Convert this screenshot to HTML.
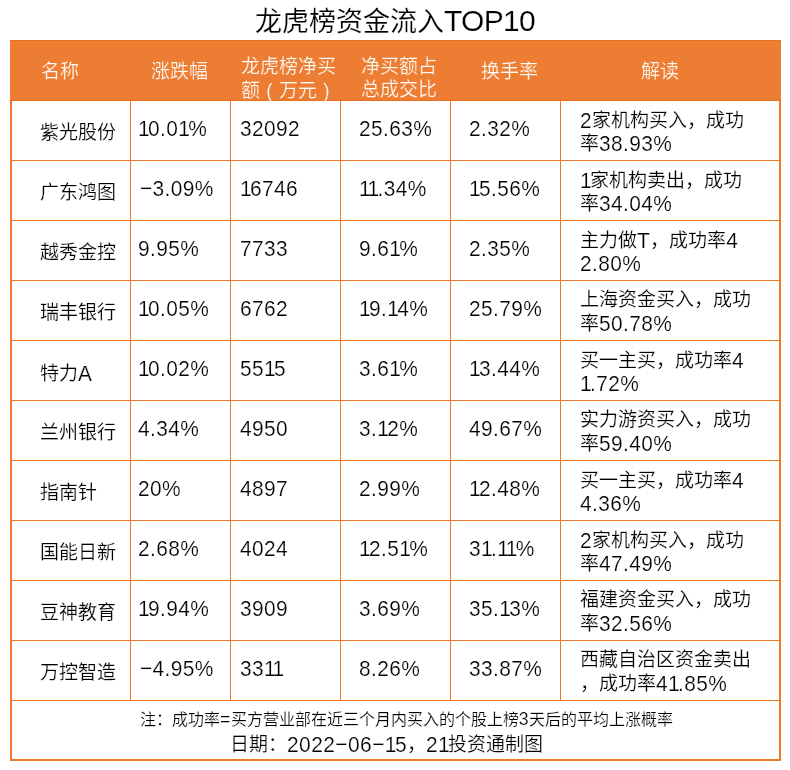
<!DOCTYPE html><html lang="zh-CN"><head><meta charset="utf-8"><style>
html,body{margin:0;padding:0;background:#fff;width:790px;height:770px;overflow:hidden}
body{position:relative;font-family:"Liberation Sans",sans-serif;color:#000;}
.a{position:absolute;white-space:nowrap;line-height:1;will-change:transform;-webkit-text-stroke:0.2px #fff}
.ln{position:absolute;background:#ec7a2c}
.h{color:#fffaf5;-webkit-text-stroke:0.2px #ec7d32}
.par{display:inline-block;text-align:center}
</style></head><body>
<div class="a " style="left:255px;top:5.5px;color:#000"><span style="font-size:27px">龙虎榜资金流入</span><span style="font-size:30px;letter-spacing:-0.7px;display:inline-block;transform:scaleY(1)">TOP10</span></div>
<div class="ln" style="left:10px;top:40px;width:771px;height:61px;background:#ec7d32"></div>
<div class="ln" style="left:10px;top:40px;width:771px;height:1px;background:#e8701f"></div>
<div class="ln" style="left:10px;top:100px;width:771px;height:1px;background:#e8701f"></div>
<div class="ln" style="left:10px;top:101px;width:2px;height:660px"></div>
<div class="ln" style="left:779px;top:101px;width:2px;height:660px"></div>
<div class="ln" style="left:10px;top:759px;width:771px;height:2px"></div>
<div class="ln" style="left:10px;top:160px;width:771px;height:1px"></div>
<div class="ln" style="left:10px;top:220px;width:771px;height:1px"></div>
<div class="ln" style="left:10px;top:280px;width:771px;height:1px"></div>
<div class="ln" style="left:10px;top:340px;width:771px;height:1px"></div>
<div class="ln" style="left:10px;top:400px;width:771px;height:1px"></div>
<div class="ln" style="left:10px;top:460px;width:771px;height:1px"></div>
<div class="ln" style="left:10px;top:520px;width:771px;height:1px"></div>
<div class="ln" style="left:10px;top:580px;width:771px;height:1px"></div>
<div class="ln" style="left:10px;top:640px;width:771px;height:1px"></div>
<div class="ln" style="left:10px;top:700px;width:771px;height:1px"></div>
<div class="ln" style="left:130px;top:101px;width:1px;height:600px"></div>
<div class="ln" style="left:230px;top:101px;width:1px;height:600px"></div>
<div class="ln" style="left:340px;top:101px;width:1px;height:600px"></div>
<div class="ln" style="left:450px;top:101px;width:1px;height:600px"></div>
<div class="ln" style="left:560px;top:101px;width:1px;height:600px"></div>
<div class="a h" style="left:41px;top:62px;"><span style="font-size:19px">名称</span></div>
<div class="a h" style="left:151px;top:62px;"><span style="font-size:19px">涨跌幅</span></div>
<div class="a h" style="left:241px;top:57px;"><span style="font-size:19px">龙虎榜净买</span></div>
<div class="a h" style="left:241px;top:80px;"><span style="font-size:19px">额</span><span style="font-size:20.9px;letter-spacing:0.4px;display:inline-block;transform:scaleY(1.08)"><span class="par" style="width:19px;font-size:19px">(</span></span><span style="font-size:19px">万元</span><span style="font-size:20.9px;letter-spacing:0.4px;display:inline-block;transform:scaleY(1.08)"><span class="par" style="width:19px;font-size:19px">)</span></span></div>
<div class="a h" style="left:361px;top:57px;"><span style="font-size:19px">净买额占</span></div>
<div class="a h" style="left:361px;top:80px;"><span style="font-size:19px">总成交比</span></div>
<div class="a h" style="left:481px;top:62px;"><span style="font-size:19px">换手率</span></div>
<div class="a h" style="left:641px;top:62px;"><span style="font-size:19px">解读</span></div>
<div class="a " style="left:40px;top:123px;"><span style="font-size:19px">紫光股份</span></div>
<div class="a " style="left:138px;top:118px;"><span style="font-size:20.9px;letter-spacing:0.4px;display:inline-block;transform:scaleY(1.08)"><i style="font-style:normal;letter-spacing:-1.6px">1</i>0.0<i style="font-style:normal;letter-spacing:-1.6px">1</i>%</span></div>
<div class="a " style="left:240px;top:118px;"><span style="font-size:20.9px;letter-spacing:0.4px;display:inline-block;transform:scaleY(1.08)">32092</span></div>
<div class="a " style="left:359px;top:118px;"><span style="font-size:20.9px;letter-spacing:0.4px;display:inline-block;transform:scaleY(1.08)">25.63%</span></div>
<div class="a " style="left:469px;top:118px;"><span style="font-size:20.9px;letter-spacing:0.4px;display:inline-block;transform:scaleY(1.08)">2.32%</span></div>
<div class="a " style="left:580px;top:110px;"><span style="font-size:20.9px;letter-spacing:0.4px;display:inline-block;transform:scaleY(1.08)">2</span><span style="font-size:19px">家机构买入，成功</span></div>
<div class="a " style="left:580px;top:133px;"><span style="font-size:19px">率</span><span style="font-size:20.9px;letter-spacing:0.4px;display:inline-block;transform:scaleY(1.08)">38.93%</span></div>
<div class="a " style="left:40px;top:183px;"><span style="font-size:19px">广东鸿图</span></div>
<div class="a " style="left:140px;top:178px;"><span style="font-size:20.9px;letter-spacing:0.4px;display:inline-block;transform:scaleY(1.08)">−3.09%</span></div>
<div class="a " style="left:240px;top:178px;"><span style="font-size:20.9px;letter-spacing:0.4px;display:inline-block;transform:scaleY(1.08)"><i style="font-style:normal;letter-spacing:-1.6px">1</i>6746</span></div>
<div class="a " style="left:359px;top:178px;"><span style="font-size:20.9px;letter-spacing:0.4px;display:inline-block;transform:scaleY(1.08)"><i style="font-style:normal;letter-spacing:-1.6px">1</i><i style="font-style:normal;letter-spacing:-1.6px">1</i>.34%</span></div>
<div class="a " style="left:469px;top:178px;"><span style="font-size:20.9px;letter-spacing:0.4px;display:inline-block;transform:scaleY(1.08)"><i style="font-style:normal;letter-spacing:-1.6px">1</i>5.56%</span></div>
<div class="a " style="left:580px;top:170px;"><span style="font-size:20.9px;letter-spacing:0.4px;display:inline-block;transform:scaleY(1.08)"><i style="font-style:normal;letter-spacing:-1.6px">1</i></span><span style="font-size:19px">家机构卖出，成功</span></div>
<div class="a " style="left:580px;top:193px;"><span style="font-size:19px">率</span><span style="font-size:20.9px;letter-spacing:0.4px;display:inline-block;transform:scaleY(1.08)">34.04%</span></div>
<div class="a " style="left:40px;top:243px;"><span style="font-size:19px">越秀金控</span></div>
<div class="a " style="left:138px;top:238px;"><span style="font-size:20.9px;letter-spacing:0.4px;display:inline-block;transform:scaleY(1.08)">9.95%</span></div>
<div class="a " style="left:240px;top:238px;"><span style="font-size:20.9px;letter-spacing:0.4px;display:inline-block;transform:scaleY(1.08)">7733</span></div>
<div class="a " style="left:359px;top:238px;"><span style="font-size:20.9px;letter-spacing:0.4px;display:inline-block;transform:scaleY(1.08)">9.6<i style="font-style:normal;letter-spacing:-1.6px">1</i>%</span></div>
<div class="a " style="left:469px;top:238px;"><span style="font-size:20.9px;letter-spacing:0.4px;display:inline-block;transform:scaleY(1.08)">2.35%</span></div>
<div class="a " style="left:580px;top:230px;"><span style="font-size:19px">主力做</span><span style="font-size:20.9px;letter-spacing:0.4px;display:inline-block;transform:scaleY(1.08)">T</span><span style="font-size:19px">，成功率</span><span style="font-size:20.9px;letter-spacing:0.4px;display:inline-block;transform:scaleY(1.08)">4</span></div>
<div class="a " style="left:580px;top:253px;"><span style="font-size:20.9px;letter-spacing:0.4px;display:inline-block;transform:scaleY(1.08)">2.80%</span></div>
<div class="a " style="left:40px;top:303px;"><span style="font-size:19px">瑞丰银行</span></div>
<div class="a " style="left:138px;top:298px;"><span style="font-size:20.9px;letter-spacing:0.4px;display:inline-block;transform:scaleY(1.08)"><i style="font-style:normal;letter-spacing:-1.6px">1</i>0.05%</span></div>
<div class="a " style="left:240px;top:298px;"><span style="font-size:20.9px;letter-spacing:0.4px;display:inline-block;transform:scaleY(1.08)">6762</span></div>
<div class="a " style="left:359px;top:298px;"><span style="font-size:20.9px;letter-spacing:0.4px;display:inline-block;transform:scaleY(1.08)"><i style="font-style:normal;letter-spacing:-1.6px">1</i>9.<i style="font-style:normal;letter-spacing:-1.6px">1</i>4%</span></div>
<div class="a " style="left:469px;top:298px;"><span style="font-size:20.9px;letter-spacing:0.4px;display:inline-block;transform:scaleY(1.08)">25.79%</span></div>
<div class="a " style="left:580px;top:290px;"><span style="font-size:19px">上海资金买入，成功</span></div>
<div class="a " style="left:580px;top:313px;"><span style="font-size:19px">率</span><span style="font-size:20.9px;letter-spacing:0.4px;display:inline-block;transform:scaleY(1.08)">50.78%</span></div>
<div class="a " style="left:40px;top:363px;"><span style="font-size:19px">特力</span><span style="font-size:20.9px;letter-spacing:0.4px;display:inline-block;transform:scaleY(1.08)">A</span></div>
<div class="a " style="left:138px;top:358px;"><span style="font-size:20.9px;letter-spacing:0.4px;display:inline-block;transform:scaleY(1.08)"><i style="font-style:normal;letter-spacing:-1.6px">1</i>0.02%</span></div>
<div class="a " style="left:240px;top:358px;"><span style="font-size:20.9px;letter-spacing:0.4px;display:inline-block;transform:scaleY(1.08)">55<i style="font-style:normal;letter-spacing:-1.6px">1</i>5</span></div>
<div class="a " style="left:359px;top:358px;"><span style="font-size:20.9px;letter-spacing:0.4px;display:inline-block;transform:scaleY(1.08)">3.6<i style="font-style:normal;letter-spacing:-1.6px">1</i>%</span></div>
<div class="a " style="left:469px;top:358px;"><span style="font-size:20.9px;letter-spacing:0.4px;display:inline-block;transform:scaleY(1.08)"><i style="font-style:normal;letter-spacing:-1.6px">1</i>3.44%</span></div>
<div class="a " style="left:580px;top:350px;"><span style="font-size:19px">买一主买，成功率</span><span style="font-size:20.9px;letter-spacing:0.4px;display:inline-block;transform:scaleY(1.08)">4</span></div>
<div class="a " style="left:580px;top:373px;"><span style="font-size:20.9px;letter-spacing:0.4px;display:inline-block;transform:scaleY(1.08)"><i style="font-style:normal;letter-spacing:-1.6px">1</i>.72%</span></div>
<div class="a " style="left:40px;top:423px;"><span style="font-size:19px">兰州银行</span></div>
<div class="a " style="left:138px;top:418px;"><span style="font-size:20.9px;letter-spacing:0.4px;display:inline-block;transform:scaleY(1.08)">4.34%</span></div>
<div class="a " style="left:240px;top:418px;"><span style="font-size:20.9px;letter-spacing:0.4px;display:inline-block;transform:scaleY(1.08)">4950</span></div>
<div class="a " style="left:359px;top:418px;"><span style="font-size:20.9px;letter-spacing:0.4px;display:inline-block;transform:scaleY(1.08)">3.<i style="font-style:normal;letter-spacing:-1.6px">1</i>2%</span></div>
<div class="a " style="left:469px;top:418px;"><span style="font-size:20.9px;letter-spacing:0.4px;display:inline-block;transform:scaleY(1.08)">49.67%</span></div>
<div class="a " style="left:580px;top:410px;"><span style="font-size:19px">实力游资买入，成功</span></div>
<div class="a " style="left:580px;top:433px;"><span style="font-size:19px">率</span><span style="font-size:20.9px;letter-spacing:0.4px;display:inline-block;transform:scaleY(1.08)">59.40%</span></div>
<div class="a " style="left:40px;top:483px;"><span style="font-size:19px">指南针</span></div>
<div class="a " style="left:138px;top:478px;"><span style="font-size:20.9px;letter-spacing:0.4px;display:inline-block;transform:scaleY(1.08)">20%</span></div>
<div class="a " style="left:240px;top:478px;"><span style="font-size:20.9px;letter-spacing:0.4px;display:inline-block;transform:scaleY(1.08)">4897</span></div>
<div class="a " style="left:359px;top:478px;"><span style="font-size:20.9px;letter-spacing:0.4px;display:inline-block;transform:scaleY(1.08)">2.99%</span></div>
<div class="a " style="left:469px;top:478px;"><span style="font-size:20.9px;letter-spacing:0.4px;display:inline-block;transform:scaleY(1.08)"><i style="font-style:normal;letter-spacing:-1.6px">1</i>2.48%</span></div>
<div class="a " style="left:580px;top:470px;"><span style="font-size:19px">买一主买，成功率</span><span style="font-size:20.9px;letter-spacing:0.4px;display:inline-block;transform:scaleY(1.08)">4</span></div>
<div class="a " style="left:580px;top:493px;"><span style="font-size:20.9px;letter-spacing:0.4px;display:inline-block;transform:scaleY(1.08)">4.36%</span></div>
<div class="a " style="left:40px;top:543px;"><span style="font-size:19px">国能日新</span></div>
<div class="a " style="left:138px;top:538px;"><span style="font-size:20.9px;letter-spacing:0.4px;display:inline-block;transform:scaleY(1.08)">2.68%</span></div>
<div class="a " style="left:240px;top:538px;"><span style="font-size:20.9px;letter-spacing:0.4px;display:inline-block;transform:scaleY(1.08)">4024</span></div>
<div class="a " style="left:359px;top:538px;"><span style="font-size:20.9px;letter-spacing:0.4px;display:inline-block;transform:scaleY(1.08)"><i style="font-style:normal;letter-spacing:-1.6px">1</i>2.5<i style="font-style:normal;letter-spacing:-1.6px">1</i>%</span></div>
<div class="a " style="left:469px;top:538px;"><span style="font-size:20.9px;letter-spacing:0.4px;display:inline-block;transform:scaleY(1.08)">3<i style="font-style:normal;letter-spacing:-1.6px">1</i>.<i style="font-style:normal;letter-spacing:-1.6px">1</i><i style="font-style:normal;letter-spacing:-1.6px">1</i>%</span></div>
<div class="a " style="left:580px;top:530px;"><span style="font-size:20.9px;letter-spacing:0.4px;display:inline-block;transform:scaleY(1.08)">2</span><span style="font-size:19px">家机构买入，成功</span></div>
<div class="a " style="left:580px;top:553px;"><span style="font-size:19px">率</span><span style="font-size:20.9px;letter-spacing:0.4px;display:inline-block;transform:scaleY(1.08)">47.49%</span></div>
<div class="a " style="left:40px;top:603px;"><span style="font-size:19px">豆神教育</span></div>
<div class="a " style="left:138px;top:598px;"><span style="font-size:20.9px;letter-spacing:0.4px;display:inline-block;transform:scaleY(1.08)"><i style="font-style:normal;letter-spacing:-1.6px">1</i>9.94%</span></div>
<div class="a " style="left:240px;top:598px;"><span style="font-size:20.9px;letter-spacing:0.4px;display:inline-block;transform:scaleY(1.08)">3909</span></div>
<div class="a " style="left:359px;top:598px;"><span style="font-size:20.9px;letter-spacing:0.4px;display:inline-block;transform:scaleY(1.08)">3.69%</span></div>
<div class="a " style="left:469px;top:598px;"><span style="font-size:20.9px;letter-spacing:0.4px;display:inline-block;transform:scaleY(1.08)">35.<i style="font-style:normal;letter-spacing:-1.6px">1</i>3%</span></div>
<div class="a " style="left:580px;top:590px;"><span style="font-size:19px">福建资金买入，成功</span></div>
<div class="a " style="left:580px;top:613px;"><span style="font-size:19px">率</span><span style="font-size:20.9px;letter-spacing:0.4px;display:inline-block;transform:scaleY(1.08)">32.56%</span></div>
<div class="a " style="left:40px;top:663px;"><span style="font-size:19px">万控智造</span></div>
<div class="a " style="left:140px;top:658px;"><span style="font-size:20.9px;letter-spacing:0.4px;display:inline-block;transform:scaleY(1.08)">−4.95%</span></div>
<div class="a " style="left:240px;top:658px;"><span style="font-size:20.9px;letter-spacing:0.4px;display:inline-block;transform:scaleY(1.08)">33<i style="font-style:normal;letter-spacing:-1.6px">1</i><i style="font-style:normal;letter-spacing:-1.6px">1</i></span></div>
<div class="a " style="left:359px;top:658px;"><span style="font-size:20.9px;letter-spacing:0.4px;display:inline-block;transform:scaleY(1.08)">8.26%</span></div>
<div class="a " style="left:469px;top:658px;"><span style="font-size:20.9px;letter-spacing:0.4px;display:inline-block;transform:scaleY(1.08)">33.87%</span></div>
<div class="a " style="left:580px;top:650px;"><span style="font-size:19px">西藏自治区资金卖出</span></div>
<div class="a " style="left:580px;top:673px;"><span style="font-size:19px">，成功率</span><span style="font-size:20.9px;letter-spacing:0.4px;display:inline-block;transform:scaleY(1.08)">4<i style="font-style:normal;letter-spacing:-1.6px">1</i>.85%</span></div>
<div class="a " style="left:140px;top:711px;"><span style="font-size:16px">注：成功率</span><span style="font-size:17.6px;letter-spacing:0.4px;display:inline-block;transform:scaleY(1.08)">=</span><span style="font-size:16px">买方营业部在近三个月内买入的个股上榜</span><span style="font-size:17.6px;letter-spacing:0.4px;display:inline-block;transform:scaleY(1.08)">3</span><span style="font-size:16px">天后的平均上涨概率</span></div>
<div class="a " style="left:230px;top:733px;"><span style="font-size:19px">日期：</span><span style="font-size:21px;letter-spacing:0.4px;display:inline-block;transform:scaleY(1.08)">2022−06−<i style="font-style:normal;letter-spacing:-1.6px">1</i>5</span><span style="font-size:19px">，</span><span style="font-size:21px;letter-spacing:0.4px;display:inline-block;transform:scaleY(1.08)">2<i style="font-style:normal;letter-spacing:-1.6px">1</i></span><span style="font-size:19px">投资通制图</span></div>
</body></html>
